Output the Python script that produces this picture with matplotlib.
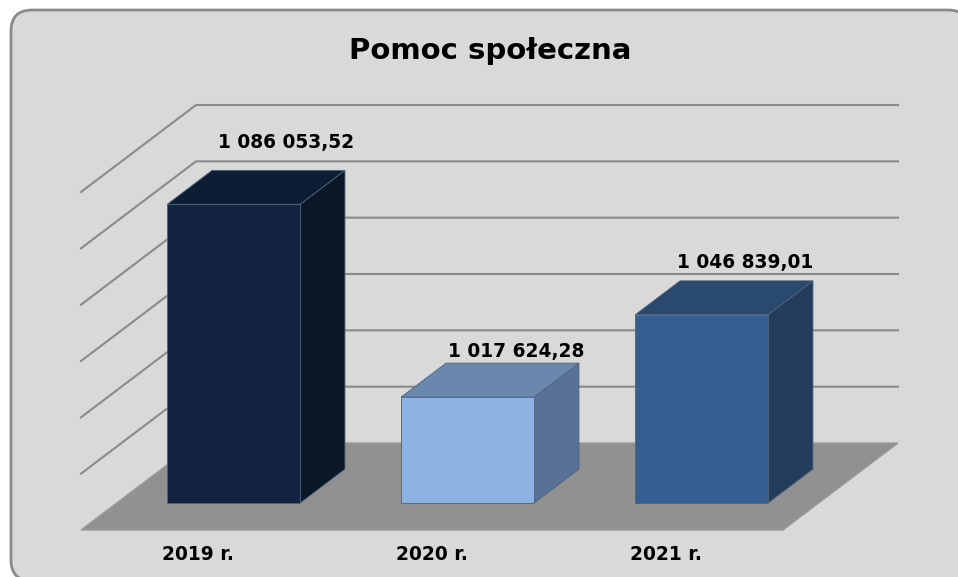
import matplotlib
matplotlib.use("Agg")
import matplotlib.pyplot as plt
from matplotlib.patches import Polygon, FancyBboxPatch

# --- data ---
categories = ["2019 r.", "2020 r.", "2021 r."]
values = [1086053.52, 1017624.28, 1046839.01]
value_labels = ["1 086 053,52", "1 017 624,28", "1 046 839,01"]
title = "Pomoc społeczna"

# value axis (hidden, only gridlines drawn)
v_min, v_max, v_step = 980000, 1100000, 20000

# --- style ---
front_colors = ["#11233F", "#8DB3E2", "#365F91"]
top_colors = ["#0D1D33", "#6A88AE", "#29496E"]
side_colors = ["#0A1727", "#577296", "#233C5C"]
bg = "#D9D9D9"
floor_color = "#919191"
grid_color = "#8A8A8A"

W_PX, H_PX, DPI = 958, 577, 100
fig = plt.figure(figsize=(W_PX / DPI, H_PX / DPI), dpi=DPI)
fig.patch.set_facecolor("white")

# rounded chart-area frame
frame = FancyBboxPatch((11 / W_PX, -4 / H_PX), 958 / W_PX, 571 / H_PX,
                       boxstyle="round,pad=0,rounding_size=0.022",
                       transform=fig.transFigure, facecolor=bg,
                       edgecolor="#8A8A8A", linewidth=2.0,
                       mutation_aspect=W_PX / H_PX, zorder=-10)
fig.patches.append(frame)

# plot axes: front floor edge spans categories -0.5..2.5
ax = fig.add_axes([81 / W_PX, 47 / H_PX, 702 / W_PX, 338 / H_PX])
ax.set_zorder(1)
ax.set_xlim(-0.5, len(categories) - 0.5)
ax.set_ylim(v_min, v_max)
ax.axis("off")
ax.patch.set_visible(False)

# oblique depth projection (in data units)
DX = 115 / 702 * 3          # category units per full depth
DY = 87 / 338 * (v_max - v_min)  # value units per full depth


def proj(x, v, d):
    return (x + d * DX, v + d * DY)


x_left, x_right = -0.5, len(categories) - 0.5

# walls: gridlines on back wall and left side wall
for gv in range(v_min + v_step, v_max + 1, v_step):
    p0 = proj(x_left, gv, 0)
    p1 = proj(x_left, gv, 1)
    p2 = proj(x_right, gv, 1)
    ax.plot([p0[0], p1[0], p2[0]], [p0[1], p1[1], p2[1]],
            color=grid_color, lw=1.5, clip_on=False, zorder=1,
            solid_joinstyle="miter")

# floor
floor = Polygon([proj(x_left, v_min, 0), proj(x_right, v_min, 0),
                 proj(x_right, v_min, 1), proj(x_left, v_min, 1)],
                closed=True, facecolor=floor_color, edgecolor="#9A9A9A",
                lw=1.0, clip_on=False, zorder=2)
ax.add_patch(floor)

# bars
bar_w = 0.568
d0, d1 = 0.31, 0.70
for i, v in enumerate(values):
    x0, x1 = i - bar_w / 2, i + bar_w / 2
    front = [proj(x0, v_min, d0), proj(x1, v_min, d0),
             proj(x1, v, d0), proj(x0, v, d0)]
    top = [proj(x0, v, d0), proj(x1, v, d0), proj(x1, v, d1), proj(x0, v, d1)]
    side = [proj(x1, v_min, d0), proj(x1, v_min, d1),
            proj(x1, v, d1), proj(x1, v, d0)]
    for pts, c in ((side, side_colors[i]), (top, top_colors[i]),
                   (front, front_colors[i])):
        ax.add_patch(Polygon(pts, closed=True, facecolor=c,
                             edgecolor="#4F627C", lw=0.6,
                             clip_on=False, zorder=3))

# value labels above the back edge of each bar top
label_offsets_px = [(8, 28), (4, 12), (-1, 18)]
for i, (v, lab) in enumerate(zip(values, value_labels)):
    ax.annotate(lab, xy=proj(i, v, d1), xytext=label_offsets_px[i],
                textcoords="offset pixels", ha="center", va="center",
                fontsize=13.4, fontweight="bold", color="black",
                annotation_clip=False, zorder=5)

# category labels under the floor
for i, cat in enumerate(categories):
    ax.annotate(cat, xy=proj(i, v_min, 0), xytext=(0, -24),
                textcoords="offset pixels", ha="center", va="center",
                fontsize=13.4, fontweight="bold", color="black",
                annotation_clip=False, zorder=5)

fig.text(490 / W_PX, 1 - 51 / H_PX, title, ha="center", va="center",
         fontsize=21, fontweight="bold", color="black")

fig.savefig("out.png", dpi=DPI, facecolor=fig.get_facecolor())
